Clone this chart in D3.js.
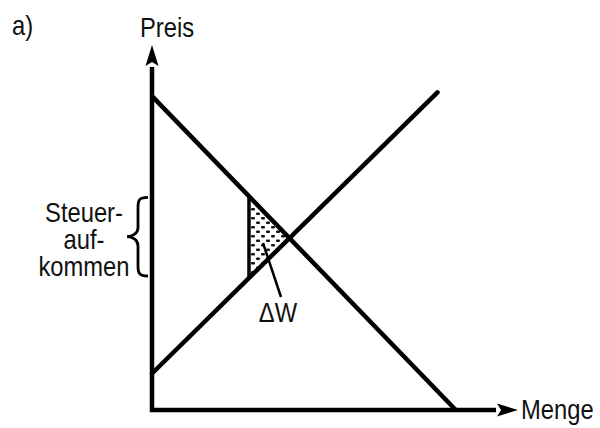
<!DOCTYPE html>
<html><head><meta charset="utf-8">
<script src="https://cdn.jsdelivr.net/npm/d3@7"></script>
<style>
html,body{margin:0;padding:0;background:#fff;}
text{font-family:"Liberation Sans Narrow","Arial Narrow","Liberation Sans",Arial,sans-serif;fill:#111;}
</style></head>
<body>
<svg id="c" width="600" height="428"></svg>
<script>
// ---- data (abstract units) ----
const axisMax = {x: 100, y: 100};
const demand = [[0, 86], [83, 0]];          // Nachfragekurve
const supply = [[0, 10], [78, 87]];          // Angebotskurve
const taxQuantity = 26.5;                    // Menge mit Steuer
const labels = {panel: "a)", yAxis: "Preis", xAxis: "Menge", dw: "\u0394W"};
const taxLabel = ["Steuer-", "auf-", "kommen"];

const svg = d3.select("#c");
const x = d3.scaleLinear().domain([0, axisMax.x]).range([152, 518]);
const y = d3.scaleLinear().domain([0, axisMax.y]).range([410, 45]);

const lineAt = (seg, q) => seg[0][1] + (seg[1][1] - seg[0][1]) * (q - seg[0][0]) / (seg[1][0] - seg[0][0]);
const pD = lineAt(demand, taxQuantity);
const pS = lineAt(supply, taxQuantity);
// equilibrium
const sd = (demand[1][1] - demand[0][1]) / (demand[1][0] - demand[0][0]);
const ss = (supply[1][1] - supply[0][1]) / (supply[1][0] - supply[0][0]);
const qE = (supply[0][1] - demand[0][1]) / (sd - ss);
const pE = demand[0][1] + sd * qE;

// stipple pattern
const defs = svg.append("defs");
const pat = defs.append("pattern").attr("id", "dots").attr("patternUnits", "userSpaceOnUse")
  .attr("width", 10).attr("height", 9);
pat.append("rect").attr("x", 1).attr("y", 1).attr("width", 4).attr("height", 2.5).attr("fill", "#111").attr("rx", 1.1);
pat.append("rect").attr("x", 6).attr("y", 5.5).attr("width", 4).attr("height", 2.5).attr("fill", "#111").attr("rx", 1.1);

// shaded triangle (Wohlfahrtsverlust)
svg.append("path")
  .attr("d", d3.line()([[x(taxQuantity), y(pD)], [x(qE), y(pE)], [x(taxQuantity), y(pS)]]) + "Z")
  .attr("fill", "url(#dots)").attr("stroke", "none");

const line = d3.line().x(d => x(d[0])).y(d => y(d[1]));
const sw = 4.5;

// demand & supply
svg.append("path").attr("d", line(demand)).attr("stroke", "#000").attr("stroke-width", sw).attr("fill", "none");
svg.append("path").attr("d", line(supply)).attr("stroke", "#000").attr("stroke-width", sw).attr("fill", "none").attr("stroke-linecap", "round");
// vertical tax wedge line
svg.append("path").attr("d", line([[taxQuantity, pD], [taxQuantity, pS]]))
  .attr("stroke", "#000").attr("stroke-width", 3.5).attr("fill", "none");

// axes
svg.append("path").attr("d", line([[0, axisMax.y - 6], [0, 0], [axisMax.x - 6, 0]]))
  .attr("stroke", "#000").attr("stroke-width", sw).attr("fill", "none").attr("stroke-linejoin", "miter");
// arrowheads
const yt = [x(0), y(axisMax.y)];
svg.append("path").attr("d", `M${yt[0]},${yt[1]} L${yt[0] + 6.5},${yt[1] + 21} L${yt[0]},${yt[1] + 17} L${yt[0] - 6.5},${yt[1] + 21} Z`).attr("fill", "#000");
const xt = [x(axisMax.x), y(0)];
svg.append("path").attr("d", `M${xt[0]},${xt[1]} L${xt[0] - 21},${xt[1] - 6.5} L${xt[0] - 17},${xt[1]} L${xt[0] - 21},${xt[1] + 6.5} Z`).attr("fill", "#000");

// brace for tax revenue
const b0 = y(pD) + 1, b1 = y(pS) - 2, bm = (b0 + b1) / 2;
const bx = 148, bv = 138, bt = 127;
svg.append("path")
  .attr("d", `M${bx},${b0} C${bv + 1},${b0} ${bv},${b0 + 3} ${bv},${b0 + 10} L${bv},${bm - 9} C${bv},${bm - 3} ${bt + 5},${bm} ${bt},${bm} C${bt + 5},${bm} ${bv},${bm + 3} ${bv},${bm + 9} L${bv},${b1 - 10} C${bv},${b1 - 3} ${bv + 1},${b1} ${bx},${b1}`)
  .attr("fill", "none").attr("stroke", "#000").attr("stroke-width", 2.8);

// leader line for ΔW
svg.append("line").attr("x1", 263).attr("y1", 243).attr("x2", 281).attr("y2", 297)
  .attr("stroke", "#000").attr("stroke-width", 2.5);

// texts (condensed look via horizontal scaling)
const fs = 27, sx = 0.88;
function label(g, px, py, txt, anchor) {
  return g.append("text")
    .attr("transform", `translate(${px},${py}) scale(${sx},1)`)
    .attr("text-anchor", anchor || "start")
    .attr("font-size", fs).text(txt);
}
label(svg, 12, 35, labels.panel);
label(svg, 140, 37, labels.yAxis);
label(svg, 521, 419, labels.xAxis);
label(svg, 278, 322, labels.dw, "middle");
taxLabel.forEach((t, i) => label(svg, 84, 222 + i * 27, t, "middle"));
</script>
</body></html>
